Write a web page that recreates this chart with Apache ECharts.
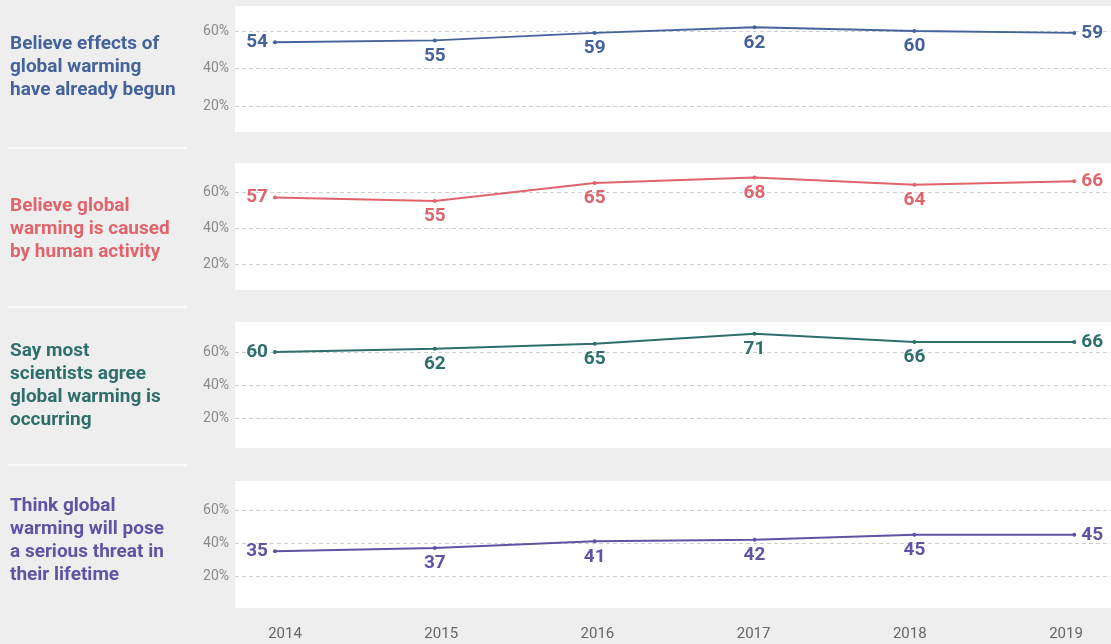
<!DOCTYPE html>
<html>
<head>
<meta charset="utf-8">
<script src="https://cdn.jsdelivr.net/npm/echarts@6/dist/echarts.min.js"></script>
<style>
  html, body { margin: 0; padding: 0; background: #eeeeee; }
  #chart { width: 1111px; height: 644px; }
</style>
</head>
<body>
<div id="chart"></div>
<script>
// Survey years and the share (%) of respondents per question
const years = [2014, 2015, 2016, 2017, 2018, 2019];
const yearLabels = ['2014', '2015', '2016', '2017', '2018', '2019'];
const effectsBegun = [54, 55, 59, 62, 60, 59];
const humanCaused = [57, 55, 65, 68, 64, 66];
const scientistsAgree = [60, 62, 65, 71, 66, 66];
const seriousThreat = [35, 37, 41, 42, 45, 45];
const percentTicks = [20, 40, 60];

const titleEffects = ['Believe effects of', 'global warming', 'have already begun'];
const titleHuman = ['Believe global', 'warming is caused', 'by human activity'];
const titleScientists = ['Say most', 'scientists agree', 'global warming is', 'occurring'];
const titleThreat = ['Think global', 'warming will pose', 'a serious threat in', 'their lifetime'];

// Panel layout: white card extents, y of the 60% and 20% gridlines, title centre
const panels = [
  { values: effectsBegun,    title: titleEffects,    color: '#44639a', cardTop: 6,   cardBottom: 132, y60: 31,  y20: 106, titleY: 67 },
  { values: humanCaused,     title: titleHuman,      color: '#e0646b', cardTop: 163, cardBottom: 290, y60: 192, y20: 264, titleY: 229 },
  { values: scientistsAgree, title: titleScientists, color: '#2e6f6c', cardTop: 322, cardBottom: 448, y60: 352, y20: 418, titleY: 386 },
  { values: seriousThreat,   title: titleThreat,     color: '#5d54a4', cardTop: 481, cardBottom: 608, y60: 510, y20: 576, titleY: 541 }
];
const separators = [148, 307, 465];

const FONT = 'Roboto, "Noto Sans", sans-serif';
const cardLeft = 235;
const W = 1111;

const grid = [], xAxis = [], yAxis = [], series = [], graphic = [];

panels.forEach((p, k) => {
  graphic.push({
    type: 'rect', z: -10, silent: true,
    shape: { x: cardLeft, y: p.cardTop, width: W - cardLeft, height: p.cardBottom - p.cardTop },
    style: { fill: '#ffffff' }
  });
  graphic.push({
    type: 'text', silent: true,
    x: 10, y: p.titleY,
    style: {
      text: p.title.join('\n'),
      font: 'bold 19px ' + FONT,
      fill: p.color,
      lineHeight: 23,
      verticalAlign: 'middle'
    }
  });

  grid.push({ left: cardLeft, right: 0, top: p.y60, height: p.y20 - p.y60 });
  xAxis.push({ type: 'value', gridIndex: k, min: 2013.75, max: 2019.23, show: false });
  yAxis.push({
    type: 'value', gridIndex: k,
    min: percentTicks[0], max: percentTicks[percentTicks.length - 1], interval: 20,
    axisLine: { show: false }, axisTick: { show: false },
    axisLabel: { formatter: '{value}%', color: '#8a8a8a', fontSize: 14, fontFamily: FONT, margin: 6 },
    splitLine: { lineStyle: { color: '#cfcfcf', type: [4, 3], width: 1 } }
  });

  const last = years.length - 1;
  series.push({
    type: 'line', xAxisIndex: k, yAxisIndex: k, clip: false,
    symbol: 'circle', symbolSize: 4,
    itemStyle: { color: p.color },
    lineStyle: { color: p.color, width: 2 },
    label: { show: true, color: p.color, fontSize: 19, fontWeight: 'bold', fontFamily: FONT },
    data: years.map((yr, i) => ({
      value: [yr, p.values[i]],
      label: {
        position: i === 0 ? 'left' : (i === last ? 'right' : 'bottom'),
        distance: i === 0 || i === last ? 5 : 4
      }
    }))
  });
});

separators.forEach(y => {
  graphic.push({
    type: 'line', silent: true,
    shape: { x1: 8, y1: y, x2: 187, y2: y },
    style: { stroke: '#fbfbfb', lineWidth: 2 }
  });
});

// Shared year axis along the bottom
const yi = panels.length;
grid.push({ left: 285, right: 45, top: 622, height: 1 });
xAxis.push({
  type: 'category', gridIndex: yi, data: yearLabels, boundaryGap: false,
  axisLine: { show: false }, axisTick: { show: false },
  axisLabel: { color: '#666666', fontSize: 15, fontFamily: FONT, margin: 4 }
});
yAxis.push({ type: 'value', gridIndex: yi, show: false });

const chart = echarts.init(document.getElementById('chart'), null, { renderer: 'canvas' });
chart.setOption({
  backgroundColor: '#eeeeee',
  animation: false,
  grid, xAxis, yAxis, series, graphic
});
</script>
</body>
</html>
